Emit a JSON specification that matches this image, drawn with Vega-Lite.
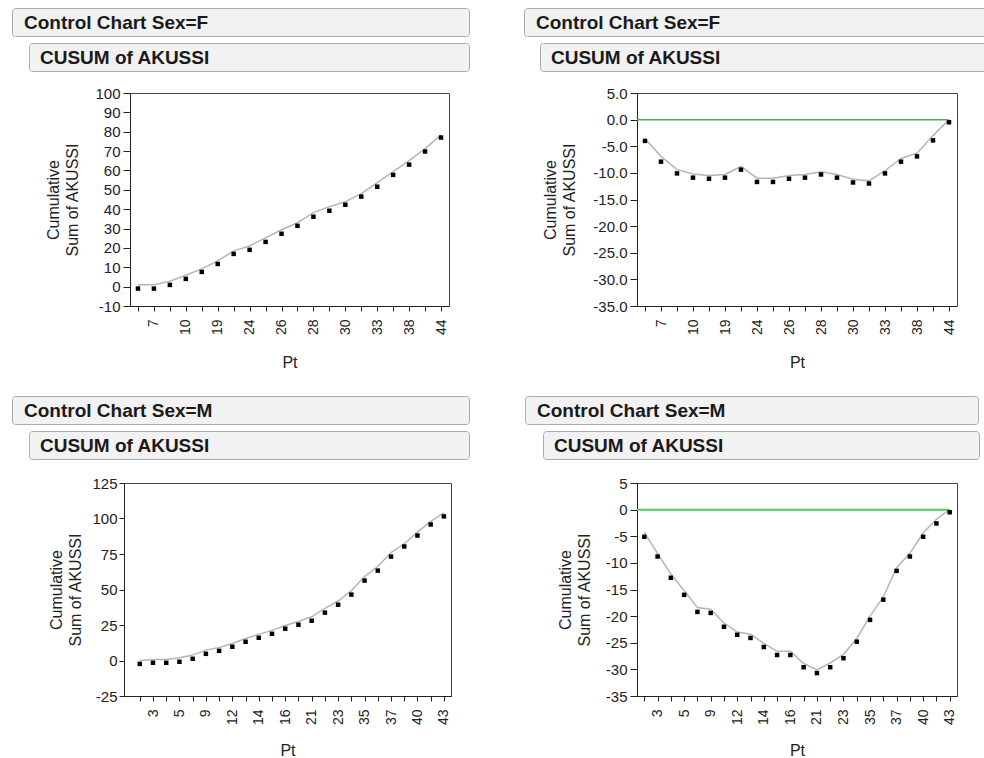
{
  "$schema": "https://vega.github.io/schema/vega-lite/v6.json",
  "padding": {"left": 11, "top": 7, "right": 0, "bottom": 0},
  "background": "white",
  "datasets": {
    "F": [
      {"Pt": 1, "raw": -1.0, "rawLine": 1.0, "dev": -4.0, "devLine": -3.6},
      {"Pt": 7, "raw": -1.0, "rawLine": 1.0, "dev": -7.9, "devLine": -6.9},
      {"Pt": 8, "raw": 0.9, "rawLine": 2.8, "dev": -10.1, "devLine": -9.4},
      {"Pt": 10, "raw": 4.0, "rawLine": 5.9, "dev": -10.9, "devLine": -10.2},
      {"Pt": 17, "raw": 7.6, "rawLine": 9.2, "dev": -11.1, "devLine": -10.5},
      {"Pt": 19, "raw": 11.7, "rawLine": 13.3, "dev": -10.9, "devLine": -10.3},
      {"Pt": 20, "raw": 16.9, "rawLine": 18.5, "dev": -9.4, "devLine": -8.8},
      {"Pt": 24, "raw": 19.0, "rawLine": 21.0, "dev": -11.7, "devLine": -11.0},
      {"Pt": 25, "raw": 23.1, "rawLine": 25.2, "dev": -11.7, "devLine": -11.0},
      {"Pt": 26, "raw": 27.3, "rawLine": 29.4, "dev": -11.1, "devLine": -10.5},
      {"Pt": 27, "raw": 31.4, "rawLine": 33.0, "dev": -10.9, "devLine": -10.3},
      {"Pt": 28, "raw": 36.1, "rawLine": 38.2, "dev": -10.3, "devLine": -9.8},
      {"Pt": 29, "raw": 39.2, "rawLine": 41.3, "dev": -10.9, "devLine": -10.3},
      {"Pt": 30, "raw": 42.3, "rawLine": 43.9, "dev": -11.8, "devLine": -11.2},
      {"Pt": 31, "raw": 46.5, "rawLine": 48.0, "dev": -12.0, "devLine": -11.5},
      {"Pt": 33, "raw": 51.6, "rawLine": 53.7, "dev": -10.1, "devLine": -9.6},
      {"Pt": 34, "raw": 57.7, "rawLine": 59.4, "dev": -7.9, "devLine": -7.3},
      {"Pt": 38, "raw": 63.0, "rawLine": 65.1, "dev": -6.9, "devLine": -6.3},
      {"Pt": 41, "raw": 69.8, "rawLine": 71.3, "dev": -3.9, "devLine": -3.0},
      {"Pt": 44, "raw": 77.0, "rawLine": 78.4, "dev": -0.5, "devLine": 0.0}
    ],
    "M": [
      {"Pt": 2, "raw": -2.4, "rawLine": 0.0, "dev": -5.1, "devLine": -4.3},
      {"Pt": 3, "raw": -1.6, "rawLine": 0.7, "dev": -8.8, "devLine": -8.2},
      {"Pt": 4, "raw": -1.6, "rawLine": 0.7, "dev": -12.8, "devLine": -12.1},
      {"Pt": 5, "raw": -0.9, "rawLine": 1.9, "dev": -16.0, "devLine": -15.2},
      {"Pt": 6, "raw": 1.2, "rawLine": 3.8, "dev": -19.2, "devLine": -18.4},
      {"Pt": 9, "raw": 4.7, "rawLine": 7.3, "dev": -19.4, "devLine": -18.7},
      {"Pt": 11, "raw": 6.8, "rawLine": 9.2, "dev": -22.0, "devLine": -21.3},
      {"Pt": 12, "raw": 9.7, "rawLine": 12.0, "dev": -23.5, "devLine": -23.0},
      {"Pt": 13, "raw": 13.2, "rawLine": 15.5, "dev": -24.1, "devLine": -23.4},
      {"Pt": 14, "raw": 16.0, "rawLine": 18.4, "dev": -25.8, "devLine": -25.1},
      {"Pt": 15, "raw": 18.8, "rawLine": 21.2, "dev": -27.3, "devLine": -26.6},
      {"Pt": 16, "raw": 22.4, "rawLine": 24.7, "dev": -27.3, "devLine": -26.6},
      {"Pt": 18, "raw": 25.2, "rawLine": 27.5, "dev": -29.6, "devLine": -28.9},
      {"Pt": 21, "raw": 28.0, "rawLine": 30.8, "dev": -30.7, "devLine": -30.1},
      {"Pt": 22, "raw": 33.7, "rawLine": 36.7, "dev": -29.6, "devLine": -28.8},
      {"Pt": 23, "raw": 39.3, "rawLine": 41.9, "dev": -27.9, "devLine": -27.2},
      {"Pt": 32, "raw": 46.4, "rawLine": 49.2, "dev": -24.8, "devLine": -24.2},
      {"Pt": 35, "raw": 56.3, "rawLine": 59.1, "dev": -20.7, "devLine": -20.0},
      {"Pt": 36, "raw": 63.3, "rawLine": 66.2, "dev": -16.9, "devLine": -16.4},
      {"Pt": 37, "raw": 73.2, "rawLine": 76.0, "dev": -11.5, "devLine": -10.9},
      {"Pt": 39, "raw": 80.3, "rawLine": 82.2, "dev": -8.8, "devLine": -8.2},
      {"Pt": 40, "raw": 88.0, "rawLine": 90.4, "dev": -5.1, "devLine": -4.4},
      {"Pt": 42, "raw": 95.8, "rawLine": 98.0, "dev": -2.6, "devLine": -1.8},
      {"Pt": 43, "raw": 101.5, "rawLine": 103.9, "dev": -0.5, "devLine": 0.0}
    ]
  },
  "vconcat": [
    {
      "hconcat": [
        {
          "vconcat": [
            {
              "vconcat": [
                {
                  "width": 457, "height": 28,
                  "data": {"values": [{"label": "Control Chart Sex=F"}]},
                  "view": {"fill": "#f2f2f2", "stroke": "#ababab", "cornerRadius": 3},
                  "mark": {"type": "text", "align": "left", "baseline": "middle", "dx": 12, "dy": 1, "fontSize": 19, "fontWeight": "bold", "color": "#1a1a1a"},
                  "encoding": {"text": {"field": "label"}, "x": {"datum": 0, "type": "quantitative", "scale": {"domain": [0, 1]}, "axis": null}}
                },
                {
                  "hconcat": [
                    {"width": 16, "height": 1, "data": {"values": []}, "view": {"stroke": null}, "mark": "text", "encoding": {"text": {"value": ""}}},
                    {
                      "width": 440, "height": 28,
                      "data": {"values": [{"label": "CUSUM of AKUSSI"}]},
                      "view": {"fill": "#f2f2f2", "stroke": "#ababab", "cornerRadius": 3},
                      "mark": {"type": "text", "align": "left", "baseline": "middle", "dx": 11, "dy": 1, "fontSize": 19, "fontWeight": "bold", "color": "#1a1a1a"},
                      "encoding": {"text": {"field": "label"}, "x": {"datum": 0, "type": "quantitative", "scale": {"domain": [0, 1]}, "axis": null}}
                    }
                  ],
                  "spacing": 0
                }
              ],
              "spacing": 5
            },
            {
              "hconcat": [
                {"width": 33, "height": 1, "data": {"values": []}, "view": {"stroke": null}, "mark": "text", "encoding": {"text": {"value": ""}}},
                {
                  "width": 319, "height": 213,
                  "data": {"name": "F"},
                  "transform": [{"fold": ["raw", "rawLine"], "as": ["series", "value"]}],
                  "encoding": {
                    "x": {"field": "Pt", "type": "ordinal", "scale": {"type": "point", "padding": 0.5},
                      "axis": {"title": "Pt", "labelAngle": -90, "labelOverlap": false, "labelExpr": "indexof([7,10,19,24,26,28,30,33,38,44], datum.value) >= 0 ? datum.label : ''", "tickSize": 5, "labelPadding": 8, "titlePadding": 20, "titleFontSize": 16}},
                    "y": {"field": "value", "type": "quantitative", "scale": {"domain": [-10, 100], "nice": false},
                      "axis": {"title": ["Cumulative", "Sum of AKUSSI"], "titleFontSize": 16, "labelOverlap": false, "values": [-10, 0, 10, 20, 30, 40, 50, 60, 70, 80, 90, 100], "labelExpr": "replace(datum.label, '\u2212', '-')", "tickSize": 7, "labelPadding": 3, "titlePadding": 14, "titleLineHeight": 19}}
                  },
                  "layer": [
                    {
                      "transform": [{"filter": "datum.series == 'rawLine'"}],
                      "mark": {"type": "line", "color": "#b5b5b5", "strokeWidth": 1.5}
                    },
                    {
                      "transform": [{"filter": "datum.series == 'raw'"}],
                      "mark": {"type": "point", "shape": "square", "filled": true, "color": "#000000", "size": 20, "opacity": 1}
                    }
                  ]
                }
              ],
              "spacing": 0
            }
          ],
          "spacing": 13
        },
        {
          "vconcat": [
            {
              "vconcat": [
                {
                  "width": 463, "height": 28,
                  "data": {"values": [{"label": "Control Chart Sex=F"}]},
                  "view": {"fill": "#f2f2f2", "stroke": "#ababab", "cornerRadius": 3},
                  "mark": {"type": "text", "align": "left", "baseline": "middle", "dx": 12, "dy": 1, "fontSize": 19, "fontWeight": "bold", "color": "#1a1a1a"},
                  "encoding": {"text": {"field": "label"}, "x": {"datum": 0, "type": "quantitative", "scale": {"domain": [0, 1]}, "axis": null}}
                },
                {
                  "hconcat": [
                    {"width": 15, "height": 1, "data": {"values": []}, "view": {"stroke": null}, "mark": "text", "encoding": {"text": {"value": ""}}},
                    {
                      "width": 448, "height": 28,
                      "data": {"values": [{"label": "CUSUM of AKUSSI"}]},
                      "view": {"fill": "#f2f2f2", "stroke": "#ababab", "cornerRadius": 3},
                      "mark": {"type": "text", "align": "left", "baseline": "middle", "dx": 11, "dy": 1, "fontSize": 19, "fontWeight": "bold", "color": "#1a1a1a"},
                      "encoding": {"text": {"field": "label"}, "x": {"datum": 0, "type": "quantitative", "scale": {"domain": [0, 1]}, "axis": null}}
                    }
                  ],
                  "spacing": 0
                }
              ],
              "spacing": 5
            },
            {
              "hconcat": [
                {"width": 18, "height": 1, "data": {"values": []}, "view": {"stroke": null}, "mark": "text", "encoding": {"text": {"value": ""}}},
                {
                  "width": 320, "height": 213,
                  "data": {"name": "F"},
                  "transform": [{"fold": ["dev", "devLine"], "as": ["series", "value"]}],
                  "encoding": {
                    "x": {"field": "Pt", "type": "ordinal", "scale": {"type": "point", "padding": 0.5},
                      "axis": {"title": "Pt", "labelAngle": -90, "labelOverlap": false, "labelExpr": "indexof([7,10,19,24,26,28,30,33,38,44], datum.value) >= 0 ? datum.label : ''", "tickSize": 5, "labelPadding": 8, "titlePadding": 20, "titleFontSize": 16}},
                    "y": {"field": "value", "type": "quantitative", "scale": {"domain": [-35, 5], "nice": false},
                      "axis": {"title": ["Cumulative", "Sum of AKUSSI"], "titleFontSize": 16, "labelOverlap": false, "format": ".1f", "values": [-35, -30, -25, -20, -15, -10, -5, 0, 5], "labelExpr": "replace(datum.label, '\u2212', '-')", "tickSize": 7, "labelPadding": 3, "titlePadding": 15, "titleLineHeight": 19}}
                  },
                  "layer": [
                    {
                      "transform": [{"filter": "datum.series == 'dev' && datum.Pt == 44"}],
                      "mark": {"type": "rule", "color": "#45b345", "strokeWidth": 1.5},
                      "encoding": {"x2": {"value": 0}, "y": {"datum": 0, "type": "quantitative"}}
                    },
                    {
                      "transform": [{"filter": "datum.series == 'devLine'"}],
                      "mark": {"type": "line", "color": "#b5b5b5", "strokeWidth": 1.5}
                    },
                    {
                      "transform": [{"filter": "datum.series == 'dev'"}],
                      "mark": {"type": "point", "shape": "square", "filled": true, "color": "#000000", "size": 20, "opacity": 1}
                    }
                  ]
                }
              ],
              "spacing": 0
            }
          ],
          "spacing": 13
        }
      ],
      "spacing": 53
    },
    {
      "hconcat": [
        {
          "vconcat": [
            {
              "vconcat": [
                {
                  "width": 457, "height": 28,
                  "data": {"values": [{"label": "Control Chart Sex=M"}]},
                  "view": {"fill": "#f2f2f2", "stroke": "#ababab", "cornerRadius": 3},
                  "mark": {"type": "text", "align": "left", "baseline": "middle", "dx": 12, "dy": 1, "fontSize": 19, "fontWeight": "bold", "color": "#1a1a1a"},
                  "encoding": {"text": {"field": "label"}, "x": {"datum": 0, "type": "quantitative", "scale": {"domain": [0, 1]}, "axis": null}}
                },
                {
                  "hconcat": [
                    {"width": 16, "height": 1, "data": {"values": []}, "view": {"stroke": null}, "mark": "text", "encoding": {"text": {"value": ""}}},
                    {
                      "width": 440, "height": 28,
                      "data": {"values": [{"label": "CUSUM of AKUSSI"}]},
                      "view": {"fill": "#f2f2f2", "stroke": "#ababab", "cornerRadius": 3},
                      "mark": {"type": "text", "align": "left", "baseline": "middle", "dx": 11, "dy": 1, "fontSize": 19, "fontWeight": "bold", "color": "#1a1a1a"},
                      "encoding": {"text": {"field": "label"}, "x": {"datum": 0, "type": "quantitative", "scale": {"domain": [0, 1]}, "axis": null}}
                    }
                  ],
                  "spacing": 0
                }
              ],
              "spacing": 5
            },
            {
              "hconcat": [
                {"width": 36, "height": 1, "data": {"values": []}, "view": {"stroke": null}, "mark": "text", "encoding": {"text": {"value": ""}}},
                {
                  "width": 327, "height": 213,
                  "data": {"name": "M"},
                  "transform": [{"fold": ["raw", "rawLine"], "as": ["series", "value"]}],
                  "encoding": {
                    "x": {"field": "Pt", "type": "ordinal", "scale": {"type": "point", "padding": 0.865, "align": 0.69},
                      "axis": {"title": "Pt", "labelAngle": -90, "labelOverlap": false, "labelExpr": "indexof([3,5,9,12,14,16,21,23,35,37,40,43], datum.value) >= 0 ? datum.label : ''", "tickSize": 5, "labelPadding": 8, "titlePadding": 18, "titleFontSize": 16}},
                    "y": {"field": "value", "type": "quantitative", "scale": {"domain": [-25, 125], "nice": false},
                      "axis": {"title": ["Cumulative", "Sum of AKUSSI"], "titleFontSize": 16, "labelOverlap": false, "values": [-25, 0, 25, 50, 75, 100, 125], "labelExpr": "replace(datum.label, '\u2212', '-')", "tickSize": 5, "labelPadding": 2, "titlePadding": 8, "titleLineHeight": 19}}
                  },
                  "layer": [
                    {
                      "transform": [{"filter": "datum.series == 'rawLine'"}],
                      "mark": {"type": "line", "color": "#b5b5b5", "strokeWidth": 1.5}
                    },
                    {
                      "transform": [{"filter": "datum.series == 'raw'"}],
                      "mark": {"type": "point", "shape": "square", "filled": true, "color": "#000000", "size": 20, "opacity": 1}
                    }
                  ]
                }
              ],
              "spacing": 0
            }
          ],
          "spacing": 15
        },
        {
          "vconcat": [
            {
              "vconcat": [
                {
                  "width": 453, "height": 28,
                  "data": {"values": [{"label": "Control Chart Sex=M"}]},
                  "view": {"fill": "#f2f2f2", "stroke": "#ababab", "cornerRadius": 3},
                  "mark": {"type": "text", "align": "left", "baseline": "middle", "dx": 12, "dy": 1, "fontSize": 19, "fontWeight": "bold", "color": "#1a1a1a"},
                  "encoding": {"text": {"field": "label"}, "x": {"datum": 0, "type": "quantitative", "scale": {"domain": [0, 1]}, "axis": null}}
                },
                {
                  "hconcat": [
                    {"width": 17, "height": 1, "data": {"values": []}, "view": {"stroke": null}, "mark": "text", "encoding": {"text": {"value": ""}}},
                    {
                      "width": 436, "height": 28,
                      "data": {"values": [{"label": "CUSUM of AKUSSI"}]},
                      "view": {"fill": "#f2f2f2", "stroke": "#ababab", "cornerRadius": 3},
                      "mark": {"type": "text", "align": "left", "baseline": "middle", "dx": 11, "dy": 1, "fontSize": 19, "fontWeight": "bold", "color": "#1a1a1a"},
                      "encoding": {"text": {"field": "label"}, "x": {"datum": 0, "type": "quantitative", "scale": {"domain": [0, 1]}, "axis": null}}
                    }
                  ],
                  "spacing": 0
                }
              ],
              "spacing": 5
            },
            {
              "hconcat": [
                {"width": 31, "height": 1, "data": {"values": []}, "view": {"stroke": null}, "mark": "text", "encoding": {"text": {"value": ""}}},
                {
                  "width": 320, "height": 213,
                  "data": {"name": "M"},
                  "transform": [{"fold": ["dev", "devLine"], "as": ["series", "value"]}],
                  "encoding": {
                    "x": {"field": "Pt", "type": "ordinal", "scale": {"type": "point", "padding": 0.55},
                      "axis": {"title": "Pt", "labelAngle": -90, "labelOverlap": false, "labelExpr": "indexof([3,5,9,12,14,16,21,23,35,37,40,43], datum.value) >= 0 ? datum.label : ''", "tickSize": 5, "labelPadding": 8, "titlePadding": 18, "titleFontSize": 16}},
                    "y": {"field": "value", "type": "quantitative", "scale": {"domain": [-35, 5], "nice": false},
                      "axis": {"title": ["Cumulative", "Sum of AKUSSI"], "titleFontSize": 16, "labelOverlap": false, "values": [-35, -30, -25, -20, -15, -10, -5, 0, 5], "labelExpr": "replace(datum.label, '\u2212', '-')", "tickSize": 7, "labelPadding": 3, "titlePadding": 13, "titleLineHeight": 19}}
                  },
                  "layer": [
                    {
                      "transform": [{"filter": "datum.series == 'dev' && datum.Pt == 43"}],
                      "mark": {"type": "rule", "color": "#5cc45c", "strokeWidth": 2},
                      "encoding": {"x2": {"value": 0}, "y": {"datum": 0, "type": "quantitative"}}
                    },
                    {
                      "transform": [{"filter": "datum.series == 'devLine'"}],
                      "mark": {"type": "line", "color": "#b5b5b5", "strokeWidth": 1.5}
                    },
                    {
                      "transform": [{"filter": "datum.series == 'dev'"}],
                      "mark": {"type": "point", "shape": "square", "filled": true, "color": "#000000", "size": 20, "opacity": 1}
                    }
                  ]
                }
              ],
              "spacing": 0
            }
          ],
          "spacing": 15
        }
      ],
      "spacing": 54
    }
  ],
  "spacing": 23,
  "config": {
    "font": "Liberation Sans",
    "view": {"stroke": "#444444", "strokeWidth": 1},
    "axis": {
      "grid": false,
      "labelFont": "Liberation Sans", "labelFontSize": 15, "labelColor": "#222222", "labelOverlap": false,
      "titleFont": "Liberation Sans", "titleFontSize": 15, "titleFontWeight": "normal", "titleColor": "#222222",
      "domainColor": "#222222", "tickColor": "#222222"
    },
    "axisX": {"titleFontSize": 16, "labelFontSize": 14}
  }
}
